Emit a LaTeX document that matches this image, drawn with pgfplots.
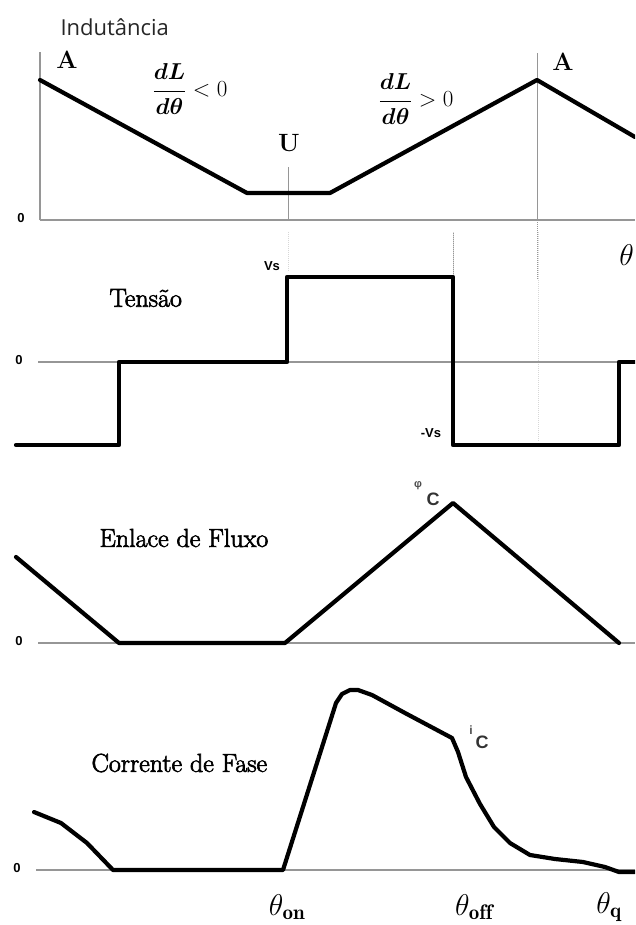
\RequirePackage{fix-cm}
\documentclass[border=0pt]{standalone}
\usepackage{amsmath}
\usepackage{bm}
\usepackage{fontspec}
\usepackage{pgfplots}
\pgfplotsset{compat=1.18}
\newfontfamily\uisans{Open Sans}
\newfontfamily\arialsans{Liberation Sans}
\newfontfamily\ttlfont{Latin Modern Roman}[FakeBold=2.5]

\definecolor{axisgray}{RGB}{150,150,150}
\definecolor{faintgray}{RGB}{215,215,215}

\pgfplotsset{
  panel/.style={
    scale only axis, hide axis, clip=false,
    xmin=0, xmax=635, width=635pt,
  },
  wave/.style={black, line width=4.2pt, line join=round, line cap=round},
  zeroline/.style={axisgray, line width=1.3pt},
}
\newcommand{\ttl}{\ttlfont\fontsize{26}{30}\selectfont}
\newcommand{\smalllbl}{\arialsans\bfseries\fontsize{13}{15}\selectfont}
\newcommand{\thetafont}{\fontsize{30}{34}\selectfont}

\begin{document}
\begin{tikzpicture}
\clip (0,0) rectangle (635pt,-925pt);
\useasboundingbox (0,0) rectangle (635pt,-925pt);

% ---------------- Indutancia ----------------
\begin{axis}[panel, ymin=-60, ymax=180, height=240pt,
  at={(0pt,-280pt)}, anchor=south west]
  \addplot[zeroline] coordinates {(40,0) (635,0)};
  \addplot[zeroline] coordinates {(40,0) (40,168)};
  \addplot[axisgray, line width=1pt] coordinates {(288,0) (288,53)};
  \addplot[axisgray, line width=1pt] coordinates {(537,0) (537,167)};
  \addplot[axisgray, line width=1pt, densely dotted] coordinates {(537,0) (537,-60)};
  \addplot[axisgray, line width=1pt, densely dotted] coordinates {(453,-13) (453,-60)};
  \addplot[wave] coordinates {(40,140) (247,27) (330,27) (537,140) (635,83)};
  \node[anchor=west, font=\uisans\fontsize{22}{26}\selectfont, text=black!85] at (axis cs:57,193) {Indutância};
  \node[font=\bfseries\fontsize{25}{28}\selectfont] at (axis cs:67,160) {A};
  \node[font=\bfseries\fontsize{25}{28}\selectfont] at (axis cs:563,158) {A};
  \node[font=\bfseries\fontsize{25}{28}\selectfont] at (axis cs:289,77) {U};
  \node[font=\fontsize{23}{26}\selectfont] at (axis cs:190,131) {$\displaystyle\bm{\frac{dL}{d\theta}}<0$};
  \node[font=\fontsize{23}{26}\selectfont] at (axis cs:416,121) {$\displaystyle\bm{\frac{dL}{d\theta}}>0$};
  \node[font=\smalllbl] at (axis cs:21,2) {0};
\end{axis}

% ---------------- Tensao ----------------
\begin{axis}[panel, ymin=-100, ymax=130, height=230pt,
  at={(0pt,-462pt)}, anchor=south west]
  \addplot[faintgray, line width=1pt, densely dotted] coordinates {(453,130) (453,-80)};
  \addplot[faintgray, line width=1pt, densely dotted] coordinates {(538,130) (538,-80)};
  \addplot[faintgray, line width=1pt, densely dotted] coordinates {(288,130) (288,90)};
  \addplot[zeroline] coordinates {(38,0) (635,0)};
  \addplot[wave] coordinates {(16,-83) (119,-83) (119,0) (287,0) (287,85)
    (453,85) (453,-83) (619,-83) (619,0) (640,0)};
  \node[anchor=west, font=\ttl] at (axis cs:106,64) {Tensão};
  \node[font=\smalllbl] at (axis cs:272,96) {Vs};
  \node[font=\smalllbl] at (axis cs:431,-71) {-Vs};
  \node[font=\smalllbl] at (axis cs:19,2) {0};
  \node[font=\thetafont, anchor=east, inner sep=1pt] at (axis cs:635,107) {$\theta$};
\end{axis}

% ---------------- Enlace de Fluxo ----------------
\begin{axis}[panel, ymin=-20, ymax=183, height=203pt,
  at={(0pt,-663pt)}, anchor=south west]
  \addplot[zeroline] coordinates {(38,0) (635,0)};
  \addplot[wave] coordinates {(16,86) (119,0) (285,0) (453,140) (619,0)};
  \node[anchor=west, font=\ttl] at (axis cs:96,105) {Enlace de Fluxo};
  \node[font=\arialsans\bfseries\fontsize{11}{12}\selectfont, text=black!70] at (axis cs:418,157) {φ};
  \node[font=\arialsans\bfseries\fontsize{18}{20}\selectfont, text=black!80] at (axis cs:433,144) {C};
  \node[font=\smalllbl] at (axis cs:19,2) {0};
\end{axis}

% ---------------- Corrente de Fase ----------------
\begin{axis}[panel, ymin=-55, ymax=210, height=265pt,
  at={(0pt,-925pt)}, anchor=south west]
  \addplot[zeroline] coordinates {(36,0) (635,0)};
  \addplot[wave] coordinates {(34,58) (61,47) (87,27) (113,0) (283,0)
    (336,167) (342,176) (350,180) (358,180) (372,175) (405,157) (452,132)
    (458,118) (466,93) (480,66) (494,43) (510,27) (530,15) (555,11)
    (583,8) (605,3) (619,-2) (640,-2)};
  \node[anchor=west, font=\ttl] at (axis cs:88,107) {Corrente de Fase};
  \node[font=\arialsans\bfseries\fontsize{12}{13}\selectfont, text=black!70] at (axis cs:471,140) {i};
  \node[font=\arialsans\bfseries\fontsize{18}{20}\selectfont, text=black!80] at (axis cs:482,128) {C};
  \node[font=\smalllbl] at (axis cs:17,2) {0};
  \node[font=\thetafont] at (axis cs:287,-37) {$\theta_{\mathbf{on}}$};
  \node[font=\thetafont] at (axis cs:474,-37) {$\theta_{\mathbf{off}}$};
  \node[font=\thetafont] at (axis cs:609,-37) {$\theta_{\mathbf{q}}$};
\end{axis}
\end{tikzpicture}
\end{document}
